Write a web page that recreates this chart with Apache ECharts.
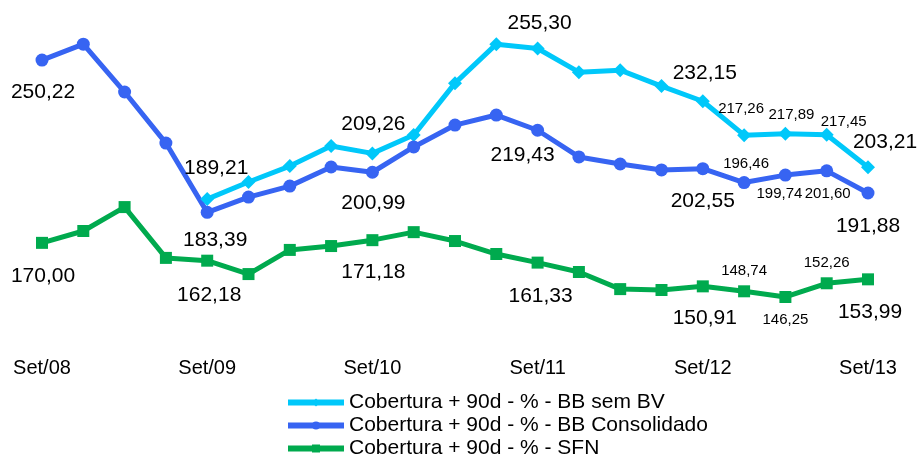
<!DOCTYPE html>
<html>
<head>
<meta charset="utf-8">
<script src="https://cdn.jsdelivr.net/npm/echarts@6/dist/echarts.min.js"></script>
<style>
  html, body { margin: 0; padding: 0; background: #fff; }
  #chart { width: 917px; height: 457px; }
</style>
</head>
<body>
<div id="chart"></div>
<script>
// quarters Set/08 .. Set/13
var quarters = ['Set/08', 'Dez/08', 'Mar/09', 'Jun/09', 'Set/09', 'Dez/09', 'Mar/10', 'Jun/10',
    'Set/10', 'Dez/10', 'Mar/11', 'Jun/11', 'Set/11', 'Dez/11', 'Mar/12', 'Jun/12',
    'Set/12', 'Dez/12', 'Mar/13', 'Jun/13', 'Set/13'];

var semBV = [null, null, null, null, 189.21, 196.7, 203.7, 212.5, 209.26, 217.3, 240.1, 257.2,
    255.30, 244.9, 245.8, 238.8, 232.15, 217.26, 217.89, 217.45, 203.21];
var consolidado = [250.22, 257.2, 236.2, 213.8, 183.39, 190.1, 194.9, 203.3, 200.99, 212.1, 221.7, 226.1,
    219.43, 207.7, 204.6, 202.0, 202.55, 196.46, 199.74, 201.60, 191.88];
var sfn = [170.00, 175.2, 185.7, 163.4, 162.18, 156.3, 166.9, 168.6, 171.18, 174.7, 170.8, 165.1,
    161.33, 157.2, 149.7, 149.3, 150.91, 148.74, 146.25, 152.26, 153.99];

var seriesNames = ['Cobertura + 90d - % - BB sem BV', 'Cobertura + 90d - % - BB Consolidado', 'Cobertura + 90d - % - SFN'];

// which points carry a value label: [index, dx, dy, small]
var semBVLabels = [[4, 9, -31, 0], [8, 1, -29, 0], [12, 2, -25, 0], [16, 2, -28, 0],
    [17, -3, -26, 1], [18, 6, -19, 1], [19, 17, -13, 1], [20, 17, -25, 0]];
var consolidadoLabels = [[0, 1, 32, 0], [4, 8, 28, 0], [8, 1, 31, 0], [12, -15, 25, 0], [16, 0, 33, 0],
    [17, 2, -19, 1], [18, -6, 19, 1], [19, 1, 23, 1], [20, 0, 33, 0]];
var sfnLabels = [[0, 1, 33, 0], [4, 2, 35, 0], [8, 1, 32, 0], [12, 3, 34, 0], [16, 2, 32, 0],
    [17, 0, -20, 1], [18, 0, 23, 1], [19, 0, -20, 1], [20, 2, 33, 0]];

var colors = ['#00C8FA', '#3764F2', '#00AA4E'];

function fmt(v) {
    return v.toFixed(2).replace('.', ',');
}

function buildData(values, labels) {
    var out = values.map(function (v) {
        return { value: v };
    });
    labels.forEach(function (l) {
        out[l[0]].label = {
            show: true,
            position: 'inside',
            offset: [l[1], l[2]],
            fontSize: l[3] ? 15 : 21,
            color: '#000',
            fontFamily: 'Liberation Sans, Arial, sans-serif',
            formatter: function (p) { return fmt(p.value); }
        };
    });
    return out;
}

function makeSeries(name, values, labels, color, symbol, size) {
    return {
        name: name,
        type: 'line',
        data: buildData(values, labels),
        symbol: symbol,
        symbolSize: size,
        showAllSymbol: true,
        connectNulls: false,
        itemStyle: { color: color },
        lineStyle: { color: color, width: 5 },
        label: { show: false },
        emphasis: { disabled: true },
        z: 2
    };
}

var chart = echarts.init(document.getElementById('chart'));
var option = {
    animation: false,
    backgroundColor: '#fff',
    textStyle: { fontFamily: 'Liberation Sans, Arial, sans-serif' },
    grid: { left: 42, right: 49, top: 15, bottom: 123 },
    legend: {
        orient: 'vertical',
        left: 285,
        top: 392,
        height: 70,
        itemWidth: 56,
        itemHeight: 10,
        itemGap: 2,
        padding: 0,
        data: seriesNames,
        lineStyle: { width: 6 },
        textStyle: { fontSize: 21, color: '#000', fontFamily: 'Liberation Sans, Arial, sans-serif' }
    },
    xAxis: {
        type: 'category',
        data: quarters,
        boundaryGap: false,
        axisLine: { show: false },
        axisTick: { show: false },
        splitLine: { show: false },
        axisLabel: {
            interval: 3,
            margin: 24,
            fontSize: 20,
            color: '#000',
            fontFamily: 'Liberation Sans, Arial, sans-serif'
        }
    },
    yAxis: {
        type: 'value',
        min: 130,
        max: 270,
        show: false
    },
    series: [
        makeSeries(seriesNames[0], semBV, semBVLabels, colors[0], 'diamond', 14),
        makeSeries(seriesNames[1], consolidado, consolidadoLabels, colors[1], 'circle', 13),
        makeSeries(seriesNames[2], sfn, sfnLabels, colors[2], 'rect', 12)
    ]
};
chart.setOption(option);
</script>
</body>
</html>
